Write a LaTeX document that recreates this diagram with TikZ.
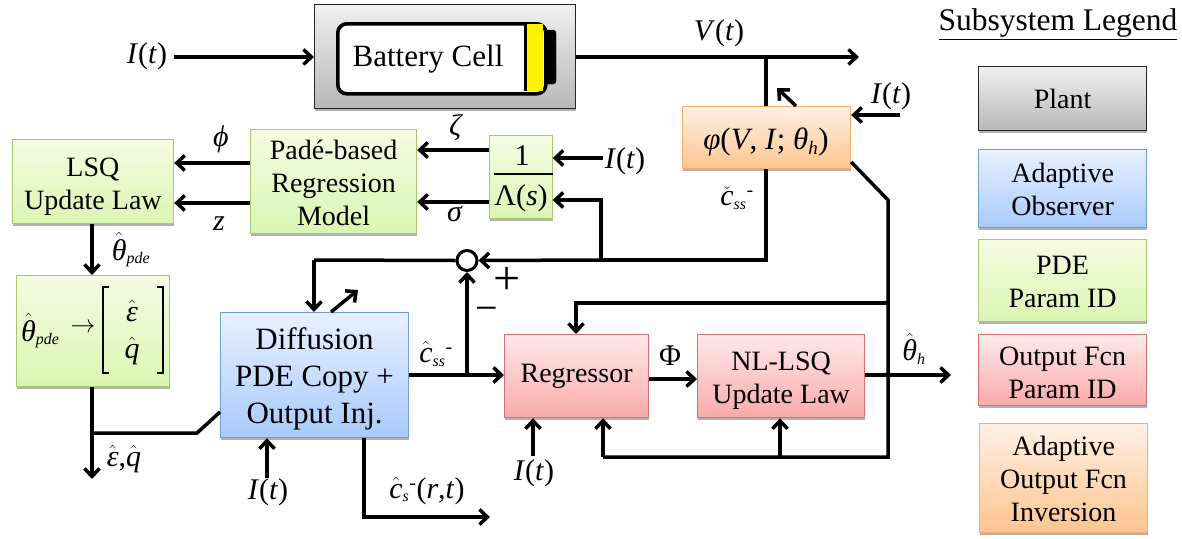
\documentclass[tikz,border=0pt]{standalone}
\usepackage{fontspec}
\setmainfont{Liberation Serif}
\usetikzlibrary{arrows.meta,shadows,calc}
\newcommand{\Iof}{\textit{I}(\textit{t})}
\newcommand{\ihat}[1]{\ensuremath{\hat{\hbox{\textit{#1}}}}}
\newcommand{\subtxt}[1]{\ensuremath{_{\hbox{\fontsize{16}{16}\selectfont\textit{#1}}}}}
\newcommand{\subbig}[1]{\ensuremath{_{\hbox{\fontsize{19}{19}\selectfont\textit{#1}}}}}
\newcommand{\suptxt}[1]{\ensuremath{^{\hbox{\fontsize{20}{20}\selectfont #1}}}}
\newcommand{\dn}[1]{\rule{0pt}{#1pt}}
\definecolor{gT}{HTML}{F4FCE2}\definecolor{gB}{HTML}{DAF6B2}\definecolor{gD}{HTML}{A9C76E}
\definecolor{bT}{HTML}{E8F1FF}\definecolor{bB}{HTML}{A8CAFB}\definecolor{bD}{HTML}{6C9DD3}
\definecolor{rT}{HTML}{FFE9E9}\definecolor{rB}{HTML}{F9AAAA}\definecolor{rD}{HTML}{D87070}
\definecolor{oT}{HTML}{FFF0E4}\definecolor{oB}{HTML}{FDC590}\definecolor{oD}{HTML}{F5AF68}
\tikzset{
  x=1pt,y=-1pt,
  box/.style={anchor=north west,inner sep=0pt,align=center,line width=1.2pt,
    font=\fontsize{28}{33}\selectfont,
    drop shadow={shadow xshift=0.6pt,shadow yshift=-2.5pt,fill=black,opacity=.3}},
  greybox/.style={box,draw=black!85,top color=black!6,bottom color=black!28},
  greenbox/.style={box,draw=gD,top color=gT,bottom color=gB},
  bluebox/.style={box,draw=bD,top color=bT,bottom color=bB},
  redbox/.style={box,draw=rD,top color=rT,bottom color=rB},
  orangebox/.style={box,draw=oD,top color=oT,bottom color=oB},
  lab/.style={inner sep=0pt,font=\fontsize{30}{34}\selectfont},
  arr/.style={line width=3.5pt,-{Straight Barb[length=8pt,width=15pt,line width=3.5pt]}},
  wire/.style={line width=3.5pt},
}
\newcommand{\mybox}[7]{\node[#1,minimum width={(#5-#3)*1pt},minimum height={(#6-#4)*1pt}] (#2) at (#3,#4) {#7};}
\begin{document}
\begin{tikzpicture}
\useasboundingbox (0,0) rectangle (1182,538);
% boxes
\mybox{greybox}{plant}{314}{4}{575}{108}{}
\draw[black,fill=black,rounded corners=3pt] (535,30) rectangle (556,84);
\node[anchor=north west,inner sep=0pt,minimum width=208pt,minimum height=70pt,draw=black,line width=3.6pt,rounded corners=9pt,fill=white] (cell) at (336,22) {};
\node[anchor=north west,inner sep=0pt,minimum width=17pt,minimum height=67pt,fill=yellow] (charge) at (525.5,23.5) {};
\draw[black,line width=2.5pt] (charge.north west) -- (charge.south west);
\node[lab,font=\fontsize{31}{33}\selectfont] (celltext) at (428,59) {Battery Cell};

\mybox{greenbox}{lsq}{11.5}{139}{173}{223}{\dn{28}LSQ\\Update Law}
\mybox{greenbox}{pade}{250}{129}{416}{233}{\dn{22}Padé-based\\Regression\\Model}
\mybox{greenbox}{filt}{489}{135}{551.5}{218}{}
\mybox{greenbox}{map}{16}{275}{169}{386}{}
\mybox{bluebox,font=\fontsize{31}{37}\selectfont}{diff}{220}{312}{408}{437}{\dn{30}Diffusion\\PDE Copy +\\Output Inj.}
\mybox{redbox}{regr}{504}{334}{648}{417}{\raisebox{-5pt}{Regressor}}
\mybox{redbox}{nl}{697}{334}{864}{417}{\dn{28}NL-LSQ\\Update Law}
\mybox{orangebox}{inv}{682}{106}{850}{168}{}
% legend
\node[lab,font=\fontsize{31.5}{34}\selectfont] (title) at (1058,24) {\underline{Subsystem Legend}};
\mybox{greybox}{lplant}{978}{66}{1146}{130}{\raisebox{-1pt}{Plant}}
\mybox{bluebox}{lobs}{978}{149}{1146}{227}{\dn{22}Adaptive\\Observer}
\mybox{greenbox}{lpde}{978}{239}{1146}{321}{\dn{22}PDE\\Param ID}
\mybox{redbox}{lout}{978}{334}{1146}{405}{\dn{24}Output Fcn\\Param ID}
\mybox{orangebox}{linv}{979}{423}{1147}{532}{\dn{22}Adaptive\\Output Fcn\\Inversion}
% fraction
\node[lab] (num) at (522,156) {1};
\node[lab] (den) at (521,198) {Λ(\textit{s})};
\draw[line width=1.4pt] (filt.west |- 0,174) ++(5,0) -- (filt.east |- 0,174);
% map content
\node[lab,anchor=west] (mapth) at (21,331) {\ihat{θ}\subtxt{pde}};
\node[lab] (maparr) at (83,328) {$\rightarrow$};
\node[lab] (mape) at (132,311) {\ihat{ε}};
\node[lab] (mapq) at (132,351) {\ihat{q}};
\coordinate (bl) at (103,287);\coordinate (br) at (163,373);
\draw[line width=1.1pt] ($(bl)+(6,0)$) -- (bl) -- (bl |- br) -- ++(6,0);
\draw[line width=1.1pt] ($(br)+(-6,0)$) -- (br) -- (br |- bl) -- ++(-6,0);
\node[lab,font=\fontsize{31}{33}\selectfont] (invtext) at (766,142) {\textit{φ}(\textit{V}, \textit{I}; \textit{θ}\subbig{h})};
% labels
\node[lab] (l1) at (147,56) {\Iof};
\node[lab] (lv) at (719,33) {\textit{V}(\textit{t})};
\node[lab] (l2) at (891,96) {\Iof};
\node[lab] (l3) at (625,161) {\Iof};
\node[lab] (lphi) at (221,139) {\textit{ϕ}};
\node[lab] (lz) at (219,224) {\textit{z}};
\node[lab] (lzeta) at (456,128) {\textit{ζ}};
\node[lab] (lsig) at (455,214) {\textit{σ}};
\node[lab] (lthp) at (131,250) {\ihat{θ}\subtxt{pde}};
\node[lab,font=\fontsize{30}{33}\selectfont] (lcc) at (737,198) {\ensuremath{\check{\hbox{\textit{c}}}}\subtxt{ss}\suptxt{-}};
\node[lab,font=\fontsize{30}{33}\selectfont] (lchat) at (436,354) {\ensuremath{\hat{\hbox{\textit{c}}}}\subtxt{ss}\suptxt{-}};
\node[lab,font=\fontsize{30}{33}\selectfont] (leq) at (124,459) {\ihat{ε},\ihat{q}};
\node[lab] (l4) at (268,492) {\Iof};
\node[lab] (l5) at (534,473) {\Iof};
\node[lab,font=\fontsize{30}{33}\selectfont] (lcs) at (427,491) {\ensuremath{\hat{\hbox{\textit{c}}}}\subtxt{s}\suptxt{-}(\textit{r},\textit{t})};
\node[lab] (lPhi) at (670,356) {Φ};
\node[lab] (lth) at (914,349) {\ihat{θ}\subtxt{h}};
\node[lab,font=\fontsize{48}{48}\selectfont] (lplus) at (507,281) {+};
\node[lab,font=\fontsize{40}{40}\selectfont] (lminus) at (487,314) {−};
% junctions
\coordinate (vend) at (859,57);
\coordinate (jv) at (766,57);
\coordinate (jfb) at (766,260);
\coordinate (jf) at (601,260);
\node[circle,draw,line width=3pt,fill=white,minimum size=20pt,inner sep=0pt] (sum) at (467,260.5) {};
\coordinate (jout) at (467,375);
\coordinate (jr) at (888,200);
\coordinate (jb) at (888,457);
\coordinate (jbm) at (780,457);
\coordinate (jt) at (888,303);
\coordinate (jm) at (92,433);
\coordinate (jk) at (197,433);
% connectors
\draw[arr] (174,57) -- (plant.west |- 0,57);
\draw[arr] (plant.east |- vend) -- (vend);
\draw[wire] (jv) -- (jv |- inv.north);
\draw[wire] (jv |- inv.south) -- (jfb) -- (jf);
\draw[arr] (jf) -- (sum.east);
\draw[wire] (sum.west) -- (314,260);
\draw[arr] (314,260) -- (diff.north -| 314,0);
\draw[arr] (jf) -- (601,200) -- (filt.east |- 0,200);
\draw[arr] (603,158) -- (filt.east |- 0,158);
\draw[arr] (filt.west |- 0,150) -- (pade.east |- 0,150);
\draw[arr] (filt.west |- 0,202) -- (pade.east |- 0,202);
\draw[arr] (pade.west |- 0,163) -- (lsq.east |- 0,163);
\draw[arr] (pade.west |- 0,203) -- (lsq.east |- 0,203);
\draw[arr] (lsq.south -| 92,0) -- (map.north -| 92,0);
\draw[arr] (map.south -| 92,0) -- (92,479);
\draw[wire] (jm) -- (jk) -- (diff.west |- 0,412);
\draw[arr] (331,312) -- (358,290);
\draw[arr] (diff.east |- jout) -- (regr.west |- jout);
\draw[arr] (jout) -- (sum.south);
\draw[arr] (267,478) -- (diff.south -| 267,0);
\draw[arr] (diff.south -| 364,0) -- (364,517) -- (490,517);
\draw[arr] (533,456) -- (regr.south -| 533,0);
\draw[arr] (jt) -- (576,303) -- (regr.north -| 576,0);
\draw[wire] (inv.east |- 0,162) -- (jr) -- (jb) -- (603,457);
\draw[arr] (603,457) -- (regr.south -| 603,0);
\draw[arr] (jbm) -- (nl.south -| jbm);
\draw[arr] (regr.east |- 0,379) -- (nl.west |- 0,379);
\draw[arr] (nl.east |- 0,375) -- (951,375);
\draw[arr] (796,106) -- (777,88);
\draw[arr] (900,115) -- (inv.east |- 0,115);
\end{tikzpicture}
\end{document}
